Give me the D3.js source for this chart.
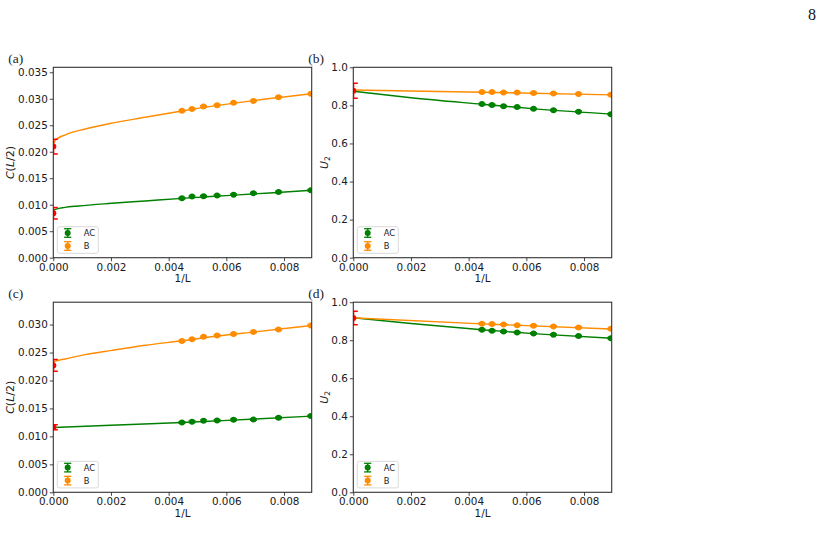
<!DOCTYPE html>
<html><head><meta charset="utf-8">
<script src="https://cdn.jsdelivr.net/npm/d3@7"></script>
<style>body{margin:0;background:#fff} svg{display:block}</style>
</head><body>
<svg id="chart" width="824" height="547"></svg>
<script>
// ---------- data ----------
const xValues = [0.00446, 0.00481, 0.00521, 0.00568, 0.00625, 0.00694, 0.00781, 0.00893];
const xTicks = [0, 0.002, 0.004, 0.006, 0.008];
const xMax = 0.00896;
const seriesNames = ["AC", "B"];

// panel (a): C(L/2)
const aAC = [0.01122, 0.01153, 0.01160, 0.01172, 0.01190, 0.01216, 0.01241, 0.01273];
const aB  = [0.02772, 0.02809, 0.02853, 0.02879, 0.02923, 0.02960, 0.03030, 0.03093];
const aFitAC = [[0,0.00888],[0.0001,0.00918],[0.0004,0.00950],[0.00087,0.00977],[0.00203,0.01027],[0.00319,0.01071],[0.00446,0.01120],[0.006,0.01172],[0.0075,0.01222],[0.00896,0.01274]];
const aFitB  = [[0,0.02160],[0.0001,0.02230],[0.00042,0.02320],[0.00111,0.02430],[0.00203,0.02540],[0.00319,0.02650],[0.00446,0.02770],[0.0057,0.02875],[0.007,0.02970],[0.00896,0.03095]];
const aExtrapVal = [0.00839, 0.02097];
const aExtrapErr = [0.00107, 0.00140];
const aYTicks = [0, 0.005, 0.010, 0.015, 0.020, 0.025, 0.030, 0.035];

// panel (b): U2
const bAC = [0.807, 0.802, 0.796, 0.791, 0.782, 0.775, 0.767, 0.754];
const bB  = [0.870, 0.870, 0.868, 0.867, 0.865, 0.863, 0.860, 0.856];
const bFitAC = [[0,0.874],[0.002,0.840],[0.00446,0.806],[0.0065,0.779],[0.00896,0.754]];
const bFitB  = [[0,0.881],[0.00446,0.869],[0.00896,0.855]];
const bExtrapVal = [0.877];
const bExtrapErr = [0.039];
const uYTicks = [0, 0.2, 0.4, 0.6, 0.8, 1.0];

// panel (c): C(L/2)
const cAC = [0.01249, 0.01261, 0.01279, 0.01285, 0.01297, 0.01303, 0.01333, 0.01363];
const cB  = [0.02708, 0.02738, 0.02780, 0.02803, 0.02833, 0.02869, 0.02911, 0.02983];
const cFitAC = [[0,0.01159],[0.002,0.01200],[0.00446,0.01249],[0.0057,0.01278],[0.007,0.01310],[0.00896,0.01362]];
const cFitB  = [[0,0.02324],[0.0001,0.02350],[0.00041,0.02385],[0.0011,0.02462],[0.00203,0.02539],[0.00319,0.02629],[0.00446,0.02710],[0.0057,0.02795],[0.007,0.02870],[0.00896,0.02983]];
const cExtrapVal = [0.01162, 0.02268];
const cExtrapErr = [0.00045, 0.00105];
const cYTicks = [0, 0.005, 0.010, 0.015, 0.020, 0.025, 0.030];

// panel (d): U2
const dAC = [0.855, 0.850, 0.846, 0.841, 0.836, 0.829, 0.822, 0.811];
const dB  = [0.887, 0.885, 0.883, 0.879, 0.876, 0.8725, 0.867, 0.860];
const dFitAC = [[0,0.918],[0.002,0.888],[0.00446,0.855],[0.0065,0.832],[0.00896,0.810]];
const dFitB  = [[0,0.918],[0.00446,0.886],[0.00896,0.859]];
const dExtrapVal = [0.917];
const dExtrapErr = [0.036];

const errC = 0.00015, errU = 0.004;

// ---------- drawing ----------
const svg = d3.select("#chart");
const colors = {AC: "#008000", B: "#ff8c00", ext: "#ff0000"};
const tickFont = "'DejaVu Sans', sans-serif";
const fs = 10.4;

svg.append("text").attr("x", 808).attr("y", 20)
  .attr("font-family", "'Liberation Serif', 'Times New Roman', serif")
  .attr("font-size", 16).attr("fill", "#111").text("8");

const panels = [
  {id:"a", label:"(a)", left:53.3, right:311.7, top:67.3, bottom:257.7, yMax:0.03594, yTicks:aYTicks, fmt:".3f",
   ac:aAC, b:aB, fitAC:aFitAC, fitB:aFitB, exV:aExtrapVal, exE:aExtrapErr, err:errC, ylab:"C"},
  {id:"b", label:"(b)", left:353.3, right:611.7, top:67.3, bottom:257.7, yMax:1.0, yTicks:uYTicks, fmt:".1f",
   ac:bAC, b:bB, fitAC:bFitAC, fitB:bFitB, exV:bExtrapVal, exE:bExtrapErr, err:errU, ylab:"U"},
  {id:"c", label:"(c)", left:53.3, right:311.7, top:302.2, bottom:492.3, yMax:0.0340, yTicks:cYTicks, fmt:".3f",
   ac:cAC, b:cB, fitAC:cFitAC, fitB:cFitB, exV:cExtrapVal, exE:cExtrapErr, err:errC, ylab:"C"},
  {id:"d", label:"(d)", left:353.3, right:611.7, top:302.2, bottom:492.3, yMax:1.0, yTicks:uYTicks, fmt:".1f",
   ac:dAC, b:dB, fitAC:dFitAC, fitB:dFitB, exV:dExtrapVal, exE:dExtrapErr, err:errU, ylab:"U"}
];

panels.forEach(p => {
  const g = svg.append("g");
  const x = d3.scaleLinear().domain([0, xMax]).range([p.left, p.right]);
  const y = d3.scaleLinear().domain([0, p.yMax]).range([p.bottom, p.top]);

  const clipId = "clip-" + p.id;
  svg.append("clipPath").attr("id", clipId).append("rect")
    .attr("x", p.left).attr("y", p.top).attr("width", p.right - p.left).attr("height", p.bottom - p.top);

  // axes
  const xa = g.append("g").attr("transform", `translate(0,${p.bottom})`)
    .call(d3.axisBottom(x).tickValues(xTicks).tickFormat(d3.format(".3f")).tickSize(3.5).tickPadding(2));
  const ya = g.append("g").attr("transform", `translate(${p.left},0)`)
    .call(d3.axisLeft(y).tickValues(p.yTicks).tickFormat(d3.format(p.fmt)).tickSize(3.5).tickPadding(2));
  [xa, ya].forEach(a => {
    a.select(".domain").remove();
    a.selectAll("line").attr("stroke", "#333").attr("stroke-width", 0.9);
    a.selectAll("text").attr("font-family", tickFont).attr("font-size", fs).attr("fill", "#1a1a1a");
  });

  const plot = g.append("g").attr("clip-path", `url(#${clipId})`);
  const line = d3.line().x(d => x(d[0])).y(d => y(d[1])).curve(d3.curveMonotoneX);
  plot.append("path").datum(p.fitAC).attr("d", line).attr("fill", "none")
    .attr("stroke", colors.AC).attr("stroke-width", 1.4);
  plot.append("path").datum(p.fitB).attr("d", line).attr("fill", "none")
    .attr("stroke", colors.B).attr("stroke-width", 1.4);

  // data points with error bars
  [[p.ac, colors.AC], [p.b, colors.B]].forEach(([vals, col]) => {
    const pts = plot.append("g");
    vals.forEach((v, i) => {
      const cx = x(xValues[i]);
      const y1 = y(v - p.err), y2 = y(v + p.err);
      pts.append("line").attr("x1", cx).attr("x2", cx).attr("y1", y1).attr("y2", y2).attr("stroke", col).attr("stroke-width", 1.3);
      [y1, y2].forEach(yy => pts.append("line").attr("x1", cx - 3.5).attr("x2", cx + 3.5).attr("y1", yy).attr("y2", yy).attr("stroke", col).attr("stroke-width", 1.3));
      pts.append("circle").attr("cx", cx).attr("cy", y(v)).attr("r", 3).attr("fill", col);
    });
  });

  // extrapolated values at 1/L = 0
  p.exV.forEach((v, i) => {
    const cx = x(0);
    const e = p.exE[i];
    const y1 = y(v - e), y2 = y(v + e);
    plot.append("line").attr("x1", cx).attr("x2", cx).attr("y1", y1).attr("y2", y2).attr("stroke", colors.ext).attr("stroke-width", 2);
    [y1, y2].forEach(yy => plot.append("line").attr("x1", cx - 4.5).attr("x2", cx + 4.5).attr("y1", yy).attr("y2", yy).attr("stroke", colors.ext).attr("stroke-width", 1.5));
    plot.append("circle").attr("cx", cx).attr("cy", y(v)).attr("r", 3).attr("fill", colors.ext);
  });

  // legend
  const lx = p.left + 4, ly = p.bottom - 31;
  const leg = g.append("g");
  leg.append("rect").attr("x", lx).attr("y", ly).attr("width", 41).attr("height", 26.6).attr("rx", 2)
    .attr("fill", "#fff").attr("fill-opacity", 0.85).attr("stroke", "#d0d0d0").attr("stroke-width", 0.8);
  seriesNames.forEach((name, i) => {
    const col = name === "AC" ? colors.AC : colors.B;
    const cy = ly + 6.3 + i * 13;
    const mx = lx + 10.4;
    leg.append("line").attr("x1", mx).attr("x2", mx).attr("y1", cy - 4.3).attr("y2", cy + 4.3).attr("stroke", col).attr("stroke-width", 1.3);
    [cy - 4.3, cy + 4.3].forEach(yy => leg.append("line").attr("x1", mx - 3.6).attr("x2", mx + 3.6).attr("y1", yy).attr("y2", yy).attr("stroke", col).attr("stroke-width", 1.3));
    leg.append("circle").attr("cx", mx).attr("cy", cy).attr("r", 3).attr("fill", col);
    leg.append("text").attr("x", lx + 26.5).attr("y", cy + 3).attr("font-family", tickFont).attr("font-size", 8.3)
      .attr("fill", "#1a1a1a").text(name);
  });

  // frame
  g.append("rect").attr("x", p.left).attr("y", p.top).attr("width", p.right - p.left).attr("height", p.bottom - p.top)
    .attr("fill", "none").attr("stroke", "#333").attr("stroke-width", 1.1);

  // x label
  g.append("text").attr("x", (p.left + p.right) / 2).attr("y", p.bottom + 24.5).attr("text-anchor", "middle")
    .attr("font-family", tickFont).attr("font-size", fs).attr("fill", "#1a1a1a").text("1/L");

  // y label
  const cyMid = (p.top + p.bottom) / 2;
  const yl = g.append("text").attr("text-anchor", "middle").attr("font-family", tickFont).attr("font-size", 11)
    .attr("fill", "#1a1a1a");
  if (p.ylab === "C") {
    yl.attr("transform", `translate(${p.left - 39.5},${cyMid}) rotate(-90)`);
    yl.append("tspan").attr("font-style", "italic").text("C");
    yl.append("tspan").text("(");
    yl.append("tspan").attr("font-style", "italic").text("L");
    yl.append("tspan").text("/2)");
  } else {
    yl.attr("transform", `translate(${p.left - 25.5},${cyMid}) rotate(-90)`);
    yl.append("tspan").attr("font-style", "italic").text("U");
    yl.append("tspan").attr("font-size", 7.7).attr("dy", 2.5).text("2");
  }

  // panel label
  g.append("text").attr("x", p.left - 45).attr("y", p.top - 4.5)
    .attr("font-family", "'Liberation Serif', 'Times New Roman', serif").attr("font-size", 13.5)
    .attr("fill", "#222").text(p.label);
});
</script>
</body></html>
